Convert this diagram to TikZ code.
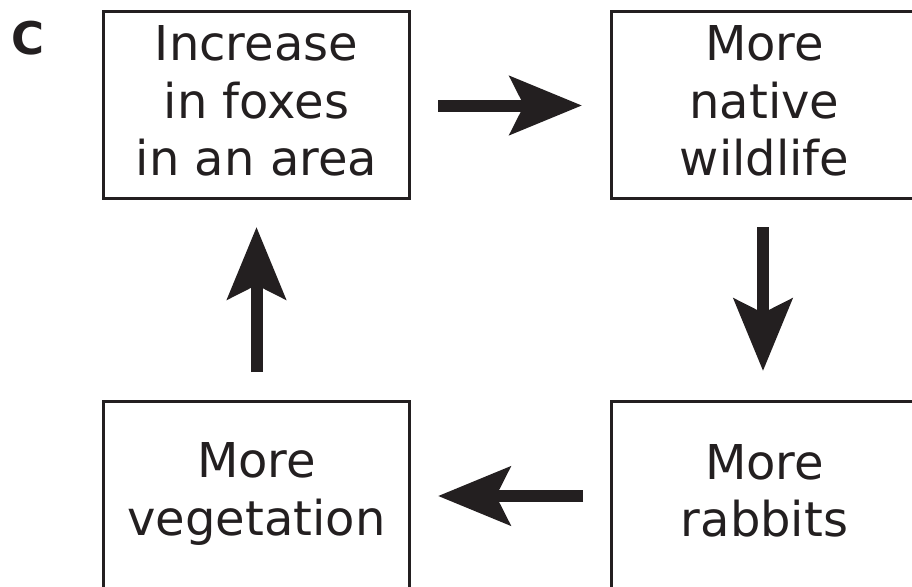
\documentclass[tikz,border=0pt]{standalone}
\usepackage{fontspec}
\setmainfont{DejaVu Sans}
\usetikzlibrary{arrows.meta}
\definecolor{ink}{HTML}{231F20}
\begin{document}
\begin{tikzpicture}[x=1pt,y=-1pt,
  box/.style={draw=ink, line width=3.2pt, minimum width=306pt, minimum height=187pt,
    inner sep=0pt, outer sep=0pt},
  txt/.style={align=center, text=ink, inner sep=0pt,
    font=\fontsize{48}{57.5}\selectfont},
  flow/.style={draw=ink, line width=12pt,
    -{Stealth[length=72pt,width=58pt,inset=14pt]}}]
\useasboundingbox (0,0) rectangle (912,586);
\clip (0,0) rectangle (912,586);
\node[box, label={[txt,yshift=4pt]center:Increase\\in foxes\\in an area}] (foxes) at (256.5,105) {};
\node[box, label={[txt,yshift=4pt]center:More\\native\\wildlife}] (wild) at (764.5,105) {};
\node[box, label={[txt,yshift=4pt]center:More\\rabbits}] (rabbits) at (764.5,495) {};
\node[box, label={[txt,yshift=1pt]center:More\\vegetation}] (veg) at (256.5,495) {};
\node[font=\bfseries\fontsize{45}{54}\selectfont, text=ink, anchor=base] (lab) at (28,55) {C};
\draw[flow, shorten <=28.5pt, shorten >=29.5pt] ([yshift=-0.5pt]foxes.east) -- ([yshift=-0.5pt]wild.west);
\draw[flow, shorten <=28.5pt, shorten >=30.5pt] ([xshift=-1.5pt]wild.south) -- ([xshift=-1.5pt]rabbits.north);
\draw[flow, shorten <=28.5pt, shorten >=28.5pt] ([yshift=-1pt]rabbits.west) -- ([yshift=-1pt]veg.east);
\draw[flow, shorten <=29.5pt, shorten >=28.5pt] (veg.north) -- (foxes.south);
\end{tikzpicture}
\end{document}
